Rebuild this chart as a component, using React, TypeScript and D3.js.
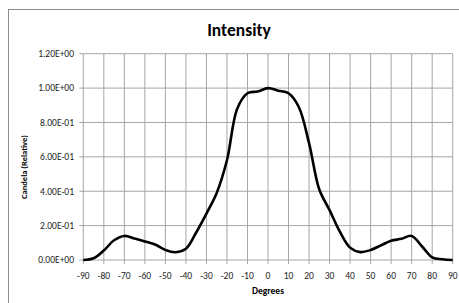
import React from "react";
import * as d3 from "d3";

const degrees = [
  -90, -85, -80, -75, -70, -65, -60, -55, -50, -45, -40, -35, -30, -25, -20, -15, -10, -5, 0,
  5, 10, 15, 20, 25, 30, 35, 40, 45, 50, 55, 60, 65, 70, 75, 80, 85, 90,
];
const intensity = [
  0.0, 0.01, 0.055, 0.115, 0.14, 0.125, 0.108, 0.09, 0.058, 0.045, 0.065, 0.16, 0.27, 0.39,
  0.58, 0.88, 0.97, 0.98, 1.0, 0.985, 0.97, 0.89, 0.68, 0.41, 0.29, 0.165, 0.072, 0.046,
  0.058, 0.085, 0.112, 0.123, 0.14, 0.08, 0.015, 0.004, 0.0,
];
const xTicks = d3.range(-90, 91, 10);
const yTicks = [0, 0.2, 0.4, 0.6, 0.8, 1.0, 1.2];

const WIDTH = 459;
const HEIGHT = 303;
const FONT = "Calibri, Carlito, Lato, 'Open Sans', sans-serif";

const fmtExp = (v: number) => {
  if (v === 0) return "0.00E+00";
  const s = v.toExponential(2).toUpperCase();
  const [m, e] = s.split("E");
  const n = parseInt(e, 10);
  return `${m}E${n < 0 ? "-" : "+"}${String(Math.abs(n)).padStart(2, "0")}`;
};

const App = () => {
  const x = d3.scaleLinear().domain([-90, 90]).range([83.3, 452.7]);
  const y = d3.scaleLinear().domain([0, 1.2]).range([260, 53.7]);

  const line = d3
    .line<number>()
    .x((d, i) => x(degrees[i]))
    .y((d) => y(d))
    .curve(d3.curveCatmullRom.alpha(0.5));

  return (
    <svg
      width={WIDTH}
      height={HEIGHT}
      style={{ position: "absolute", left: 0, top: 0, background: "#fff" }}
      fontFamily={FONT}
    >
      <rect x={0} y={0} width={WIDTH} height={HEIGHT} fill="#fff" />
      <rect x={8.5} y={9.5} width={WIDTH + 20} height={HEIGHT + 20} fill="none" stroke="#8c8c8c" />
      <text x={239} y={36} textAnchor="middle" fontSize={17.5} fontWeight="bold" fill="#000">
        Intensity
      </text>
      <g>
        {xTicks.map((t) => (
          <line key={`gx${t}`} x1={x(t)} x2={x(t)} y1={y(1.2)} y2={y(0)} stroke="#a6a6a6" />
        ))}
        {yTicks.map((t) => (
          <line key={`gy${t}`} x1={x(-90)} x2={x(90)} y1={y(t)} y2={y(t)} stroke="#a6a6a6" />
        ))}
        {xTicks.map((t) => (
          <line key={`tx${t}`} x1={x(t)} x2={x(t)} y1={y(0)} y2={y(0) + 4} stroke="#a6a6a6" />
        ))}
        {yTicks.map((t) => (
          <line key={`ty${t}`} x1={x(-90) - 4} x2={x(-90)} y1={y(t)} y2={y(t)} stroke="#a6a6a6" />
        ))}
      </g>
      <path d={line(intensity) ?? ""} fill="none" stroke="#000" strokeWidth={2.6} strokeLinejoin="round" />
      {yTicks.map((t) => (
        <text key={`ly${t}`} x={74} y={y(t) + 3.3} textAnchor="end" fontSize={9.5} fill="#222">
          {fmtExp(t)}
        </text>
      ))}
      {xTicks.map((t) => (
        <text key={`lx${t}`} x={x(t)} y={278.5} textAnchor="middle" fontSize={9.5} fill="#222">
          {t}
        </text>
      ))}
      <text x={268} y={293.5} textAnchor="middle" fontSize={9.5} fontWeight="bold" fill="#000">
        Degrees
      </text>
      <text
        transform="translate(27,167) rotate(-90)"
        textAnchor="middle"
        fontSize={8.5}
        fontWeight="bold"
        fill="#000"
      >
        Candela (Relative)
      </text>
    </svg>
  );
};

export default App;
